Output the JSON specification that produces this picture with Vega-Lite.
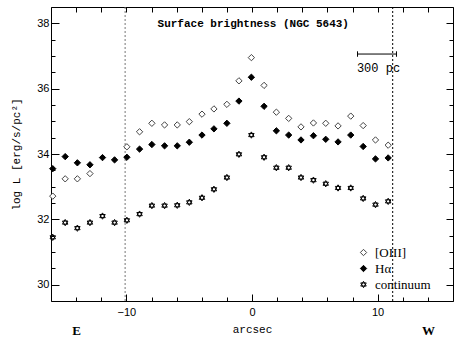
{
  "$schema": "https://vega.github.io/schema/vega-lite/v6.json",
  "width": 402,
  "height": 294,
  "autosize": {"type": "none"},
  "padding": {"left": 51, "top": 7, "right": 3, "bottom": 37},
  "background": "white",
  "config": {
    "view": {"stroke": "#000", "strokeWidth": 1},
    "axis": {"domain": false, "grid": false, "labelFont": "Liberation Sans", "labelFontSize": 11, "labelColor": "#000", "tickColor": "#000", "titleColor": "#000", "tickWidth": 1}
  },
  "datasets": {
    "points": [
      {"series": "[OIII]", "x": -15.86, "y": 32.71},
      {"series": "[OIII]", "x": -14.87, "y": 33.24},
      {"series": "[OIII]", "x": -13.9, "y": 33.24},
      {"series": "[OIII]", "x": -12.9, "y": 33.4},
      {"series": "[OIII]", "x": -9.96, "y": 34.22},
      {"series": "[OIII]", "x": -8.95, "y": 34.68},
      {"series": "[OIII]", "x": -7.97, "y": 34.94},
      {"series": "[OIII]", "x": -6.96, "y": 34.89},
      {"series": "[OIII]", "x": -5.95, "y": 34.89},
      {"series": "[OIII]", "x": -4.99, "y": 34.99},
      {"series": "[OIII]", "x": -3.98, "y": 35.22},
      {"series": "[OIII]", "x": -3.03, "y": 35.38},
      {"series": "[OIII]", "x": -2.0, "y": 35.52},
      {"series": "[OIII]", "x": -1.04, "y": 36.24},
      {"series": "[OIII]", "x": -0.05, "y": 36.95},
      {"series": "[OIII]", "x": 0.96, "y": 36.1},
      {"series": "[OIII]", "x": 1.94, "y": 35.28},
      {"series": "[OIII]", "x": 2.92, "y": 35.09},
      {"series": "[OIII]", "x": 3.9, "y": 34.83},
      {"series": "[OIII]", "x": 4.89, "y": 34.95},
      {"series": "[OIII]", "x": 5.87, "y": 34.94},
      {"series": "[OIII]", "x": 6.85, "y": 34.86},
      {"series": "[OIII]", "x": 7.86, "y": 35.16},
      {"series": "[OIII]", "x": 8.85, "y": 34.87},
      {"series": "[OIII]", "x": 9.83, "y": 34.43},
      {"series": "[OIII]", "x": 10.84, "y": 34.27},
      {"series": "Hα", "x": -15.86, "y": 33.55},
      {"series": "Hα", "x": -14.87, "y": 33.92},
      {"series": "Hα", "x": -13.9, "y": 33.73},
      {"series": "Hα", "x": -12.9, "y": 33.67},
      {"series": "Hα", "x": -11.9, "y": 33.89},
      {"series": "Hα", "x": -10.94, "y": 33.82},
      {"series": "Hα", "x": -9.96, "y": 33.9},
      {"series": "Hα", "x": -8.95, "y": 34.15},
      {"series": "Hα", "x": -7.97, "y": 34.29},
      {"series": "Hα", "x": -6.96, "y": 34.25},
      {"series": "Hα", "x": -5.95, "y": 34.25},
      {"series": "Hα", "x": -4.99, "y": 34.36},
      {"series": "Hα", "x": -3.98, "y": 34.58},
      {"series": "Hα", "x": -3.03, "y": 34.77},
      {"series": "Hα", "x": -2.0, "y": 34.94},
      {"series": "Hα", "x": -1.04, "y": 35.62},
      {"series": "Hα", "x": -0.05, "y": 36.35},
      {"series": "Hα", "x": 0.96, "y": 35.46},
      {"series": "Hα", "x": 1.94, "y": 34.71},
      {"series": "Hα", "x": 2.92, "y": 34.58},
      {"series": "Hα", "x": 3.9, "y": 34.43},
      {"series": "Hα", "x": 4.89, "y": 34.56},
      {"series": "Hα", "x": 5.87, "y": 34.45},
      {"series": "Hα", "x": 6.85, "y": 34.37},
      {"series": "Hα", "x": 7.86, "y": 34.58},
      {"series": "Hα", "x": 8.85, "y": 34.23},
      {"series": "Hα", "x": 9.83, "y": 33.85},
      {"series": "Hα", "x": 10.84, "y": 33.88},
      {"series": "continuum", "x": -15.86, "y": 31.45},
      {"series": "continuum", "x": -14.87, "y": 31.9},
      {"series": "continuum", "x": -13.9, "y": 31.73},
      {"series": "continuum", "x": -12.9, "y": 31.9},
      {"series": "continuum", "x": -11.9, "y": 32.1},
      {"series": "continuum", "x": -10.94, "y": 31.9},
      {"series": "continuum", "x": -9.96, "y": 31.97},
      {"series": "continuum", "x": -8.95, "y": 32.16},
      {"series": "continuum", "x": -7.97, "y": 32.42},
      {"series": "continuum", "x": -6.96, "y": 32.42},
      {"series": "continuum", "x": -5.95, "y": 32.43},
      {"series": "continuum", "x": -4.99, "y": 32.52},
      {"series": "continuum", "x": -3.98, "y": 32.66},
      {"series": "continuum", "x": -3.03, "y": 32.92},
      {"series": "continuum", "x": -2.0, "y": 33.28},
      {"series": "continuum", "x": -1.04, "y": 33.99},
      {"series": "continuum", "x": -0.05, "y": 34.58},
      {"series": "continuum", "x": 0.96, "y": 33.9},
      {"series": "continuum", "x": 1.94, "y": 33.58},
      {"series": "continuum", "x": 2.92, "y": 33.58},
      {"series": "continuum", "x": 3.9, "y": 33.28},
      {"series": "continuum", "x": 4.89, "y": 33.2},
      {"series": "continuum", "x": 5.87, "y": 33.09},
      {"series": "continuum", "x": 6.85, "y": 32.96},
      {"series": "continuum", "x": 7.86, "y": 32.96},
      {"series": "continuum", "x": 8.85, "y": 32.64},
      {"series": "continuum", "x": 9.83, "y": 32.45},
      {"series": "continuum", "x": 10.84, "y": 32.55}
    ],
    "scalebar": [{"x": 8.4, "x2": 11.5, "y": 37.06}],
    "scaleends": [{"x": 8.4, "y": 37.06}, {"x": 11.5, "y": 37.06}],
    "titletext": [{"x": 0.1, "y": 37.97, "text": "Surface brightness (NGC 5643)"}],
    "bartext": [{"x": 8.35, "y": 36.64, "text": "300 pc"}]
  },
  "layer": [
    {
      "data": {"values": [{"x": -10.1}]},
      "mark": {"type": "rule", "strokeDash": [2, 2], "color": "#777", "strokeWidth": 1},
      "encoding": {
        "x": {"field": "x", "type": "quantitative", "scale": {"domain": [-16, 16], "nice": false, "zero": false},
          "axis": {"orient": "bottom", "values": [-14, -12, -10, -8, -6, -4, -2, 0, 2, 4, 6, 8, 10, 12, 14], "tickSize": -4, "labels": false, "title": null}}
      }
    },
    {
      "data": {"values": [{"x": 11.2}]},
      "mark": {"type": "rule", "strokeDash": [2, 2], "color": "#000", "strokeWidth": 1},
      "encoding": {
        "x": {"field": "x", "type": "quantitative", "scale": {"domain": [-16, 16], "nice": false, "zero": false},
          "axis": {"orient": "top", "values": [-14, -12, -10, -8, -6, -4, -2, 0, 2, 4, 6, 8, 10, 12, 14], "tickSize": -5, "labels": false, "title": null}}
      }
    },
    {
      "data": {"name": "points"},
      "mark": {"type": "point", "filled": true, "opacity": 1, "strokeWidth": 1, "size": 40},
      "encoding": {
        "x": {"field": "x", "type": "quantitative", "scale": {"domain": [-16, 16], "nice": false, "zero": false},
          "axis": {"orient": "bottom", "values": [-10, 0, 10], "tickSize": -7, "labelPadding": 12, "title": "arcsec", "titleFont": "Liberation Mono", "titleFontSize": 11, "titleFontWeight": "normal", "titlePadding": 6}},
        "y": {"field": "y", "type": "quantitative", "scale": {"domain": [29.5, 38.5], "nice": false, "zero": false},
          "axis": {"orient": "left", "values": [30, 32, 34, 36, 38], "tickSize": -8, "labelPadding": 10, "title": "log L [erg/s/pc²]", "titleFont": "Liberation Mono", "titleFontSize": 11, "titleFontWeight": "normal", "titlePadding": 15}},
        "shape": {"field": "series", "type": "nominal",
          "scale": {"domain": ["[OIII]", "Hα", "continuum"], "range": ["diamond", "diamond", "M0,-1L0.866,0.5L-0.866,0.5ZM0,1L0.866,-0.5L-0.866,-0.5Z"]},
          "legend": {"orient": "none", "legendX": 306, "legendY": 239, "title": null, "labelFont": "Liberation Serif", "labelFontSize": 13, "labelColor": "#000", "symbolSize": 40, "rowPadding": 2, "labelOffset": 5, "symbolStrokeWidth": 1}},
        "fill": {"field": "series", "type": "nominal", "scale": {"domain": ["[OIII]", "Hα", "continuum"], "range": ["white", "black", "white"]}},
        "stroke": {"field": "series", "type": "nominal", "scale": {"domain": ["[OIII]", "Hα", "continuum"], "range": ["#444", "black", "black"]}}
      }
    },
    {
      "data": {"name": "scalebar"},
      "mark": {"type": "rule", "color": "#000", "strokeWidth": 1},
      "encoding": {
        "x": {"field": "x", "type": "quantitative", "scale": {"domain": [-16, 16], "nice": false, "zero": false}, "axis": null},
        "x2": {"field": "x2"},
        "y": {"field": "y", "type": "quantitative", "scale": {"domain": [29.5, 38.5], "nice": false, "zero": false},
          "axis": {"orient": "right", "values": [30, 32, 34, 36, 38], "tickSize": -7, "labels": false, "title": null}}
      }
    },
    {
      "data": {"name": "scaleends"},
      "mark": {"type": "point", "shape": "M0,-1L0,1", "size": 30, "stroke": "#000", "strokeWidth": 1, "opacity": 1},
      "encoding": {
        "x": {"field": "x", "type": "quantitative", "scale": {"domain": [-16, 16], "nice": false, "zero": false}, "axis": null},
        "y": {"field": "y", "type": "quantitative", "scale": {"domain": [29.5, 38.5], "nice": false, "zero": false},
          "axis": {"orient": "right", "values": [29.5, 30.5, 31, 31.5, 32.5, 33, 33.5, 34.5, 35, 35.5, 36.5, 37, 37.5, 38.5], "tickSize": -4, "labels": false, "title": null}}
      }
    },
    {
      "data": {"name": "titletext"},
      "mark": {"type": "text", "font": "Liberation Mono", "fontSize": 11, "fontWeight": "bold", "align": "center", "baseline": "middle", "color": "#000"},
      "encoding": {
        "x": {"field": "x", "type": "quantitative", "scale": {"domain": [-16, 16], "nice": false, "zero": false},
          "axis": {"orient": "bottom", "values": [-14, 14], "labelExpr": "datum.value < 0 ? 'E' : 'W'", "ticks": false, "labelPadding": 23, "labelFont": "Liberation Serif", "labelFontSize": 13, "labelFontWeight": "bold", "title": null}},
        "y": {"field": "y", "type": "quantitative", "scale": {"domain": [29.5, 38.5], "nice": false, "zero": false},
          "axis": {"orient": "left", "values": [29.5, 30.5, 31, 31.5, 32.5, 33, 33.5, 34.5, 35, 35.5, 36.5, 37, 37.5, 38.5], "tickSize": -4, "labels": false, "title": null}},
        "text": {"field": "text"}
      }
    },
    {
      "data": {"name": "bartext"},
      "mark": {"type": "text", "font": "Liberation Mono", "fontSize": 12, "align": "left", "baseline": "middle", "color": "#000"},
      "encoding": {
        "x": {"field": "x", "type": "quantitative", "scale": {"domain": [-16, 16], "nice": false, "zero": false}, "axis": null},
        "y": {"field": "y", "type": "quantitative", "scale": {"domain": [29.5, 38.5], "nice": false, "zero": false}, "axis": null},
        "text": {"field": "text"}
      }
    }
  ],
  "resolve": {"axis": {"x": "independent", "y": "independent"}}
}
